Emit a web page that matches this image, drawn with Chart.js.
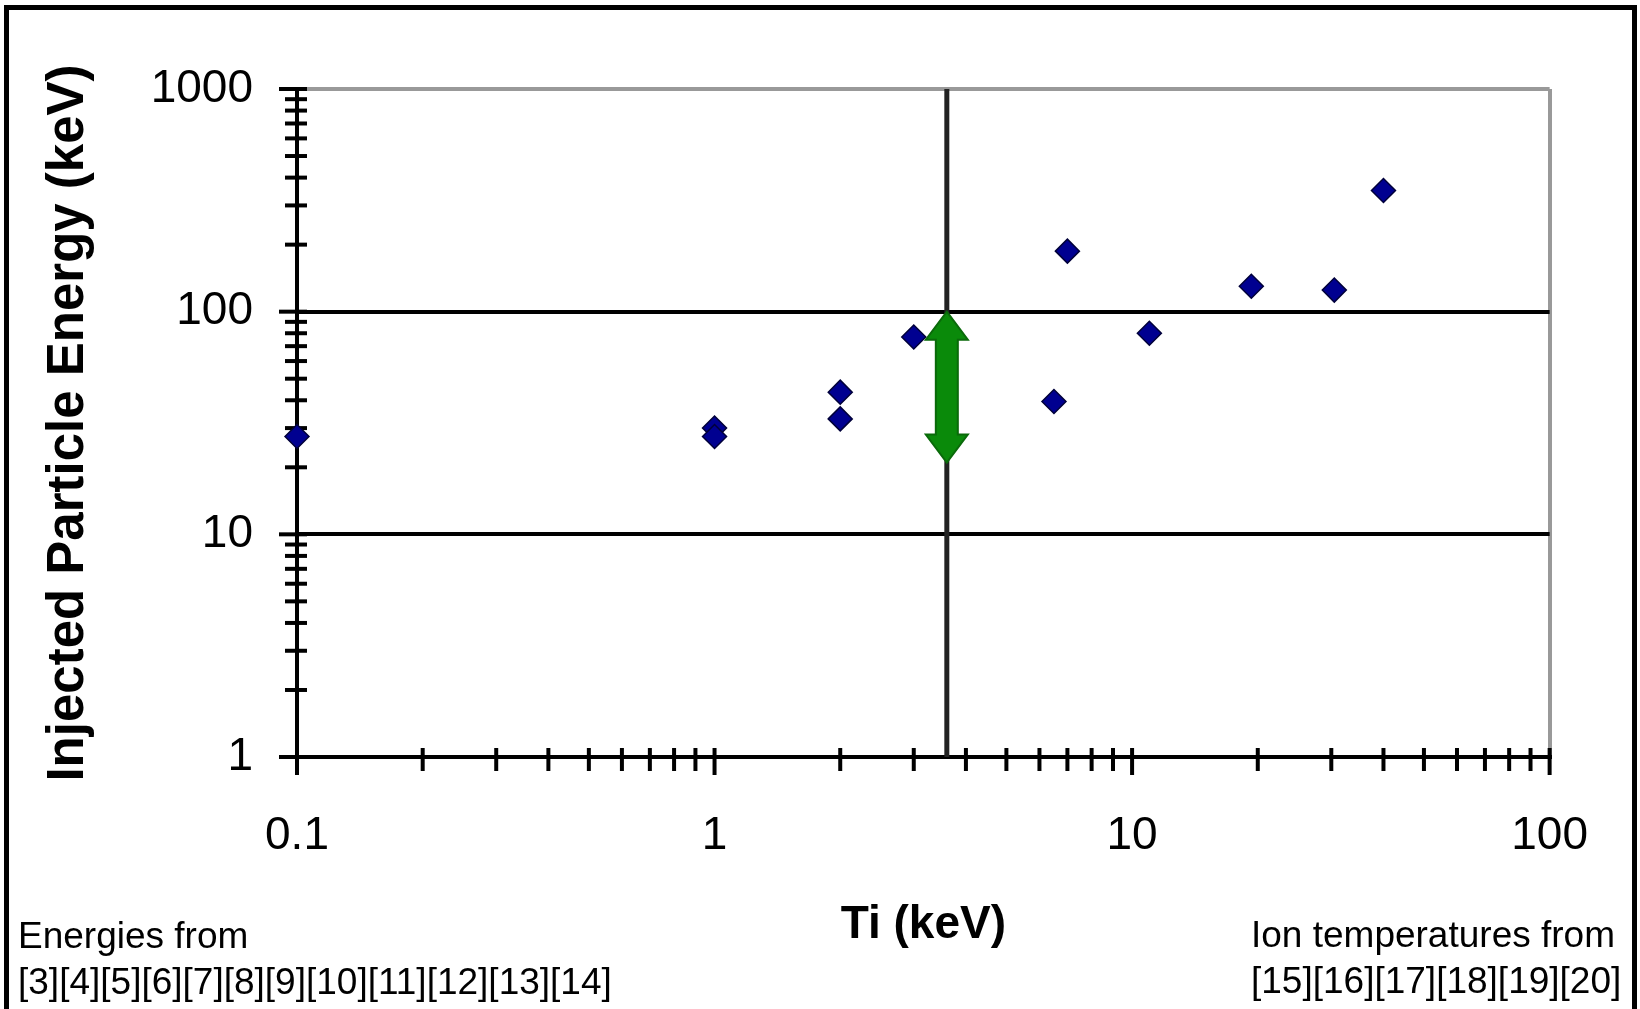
<!DOCTYPE html>
<html>
<head>
<meta charset="utf-8">
<title>Injected Particle Energy vs Ti</title>
<script src="https://cdn.jsdelivr.net/npm/chart.js@4.4.1/dist/chart.umd.min.js"></script>
<style>
    html, body { margin: 0; padding: 0; background: #fff; overflow: hidden; }
    #wrap { position: relative; width: 1640px; height: 1009px; overflow: hidden; }
    #frame { position: absolute; left: 4px; top: 5px; width: 1623px; height: 1100px; border: 5px solid #000; }
    canvas { position: absolute; left: 0; top: 0; }
    .note {
        position: absolute;
        font-family: "Liberation Sans", Arial, sans-serif;
        font-size: 37px;
        line-height: 46px;
        color: #000;
        white-space: nowrap;
    }
</style>
</head>
<body>
<div id="wrap">
    <div id="frame"></div>
    <canvas id="energyChart" width="1640" height="1009"></canvas>
    <div class="note" style="left:18px; top:913px;">Energies from<br>[3][4][5][6][7][8][9][10][11][12][13][14]</div>
    <div class="note" style="left:1251px; top:912px;">Ion temperatures from<br>[15][16][17][18][19][20]</div>
</div>

<script>
// --- Chart data ---

const tiValues = [0.1, 1, 1, 2, 2, 3, 6.5, 7, 11, 19.3, 30.5, 40];
const energyValues = [27.5, 30, 27.5, 43.5, 33, 77, 39.5, 187, 80, 130, 125, 350];

const xTickValues = [0.1, 1, 10, 100];
const xTickLabels = ["0.1", "1", "10", "100"];
const yTickValues = [1, 10, 100, 1000];
const yTickLabels = ["1", "10", "100", "1000"];

// vertical marker line and the green range arrow
const markerTi = [3.6, 3.6];
const markerEnergy = [1, 1000];
const arrowTi = 3.6;
const arrowEnergy = [21, 100];

const tickFont = { family: "'Liberation Sans Narrow', 'Arial Narrow', 'Liberation Sans', Arial, sans-serif", size: 46 };

// --- Helpers ---

// 1..9 steps inside each decade, used for the minor tick marks
function decadeTicks(decades) {
    const ticks = [];
    for (let i = 0; i < decades.length - 1; i++) {
        for (let m = 1; m <= 9; m++) {
            ticks.push(parseFloat((m * decades[i]).toPrecision(6)));
        }
    }
    ticks.push(decades[decades.length - 1]);
    return ticks.map(v => ({ value: v }));
}

function labelFor(values, labels) {
    return (value) => {
        const i = values.indexOf(value);
        return i >= 0 ? labels[i] : "";
    };
}

// Excel style tick marks that cross the axis line
const crossTicks = {
    id: "crossTicks",
    beforeDatasetsDraw(chart) {
        const { ctx, chartArea, scales } = chart;
        ctx.save();
        ctx.strokeStyle = "#000";
        ctx.lineWidth = 4;

        scales.x.ticks.forEach((t) => {
            const px = scales.x.getPixelForValue(t.value);
            const major = xTickValues.includes(t.value);
            ctx.beginPath();
            ctx.moveTo(px, chartArea.bottom - 9);
            ctx.lineTo(px, chartArea.bottom + (major ? 18 : 14));
            ctx.stroke();
        });

        scales.y.ticks.forEach((t) => {
            const py = scales.y.getPixelForValue(t.value);
            const major = yTickValues.includes(t.value);
            ctx.beginPath();
            ctx.moveTo(chartArea.left - (major ? 18 : 12), py);
            ctx.lineTo(chartArea.left + 10, py);
            ctx.stroke();
        });
        ctx.restore();
    }
};

// Green double headed arrow
const rangeArrow = {
    id: "rangeArrow",
    afterDatasetsDraw(chart) {
        const { ctx, scales } = chart;
        const x = scales.x.getPixelForValue(arrowTi);
        const yTop = scales.y.getPixelForValue(arrowEnergy[1]);
        const yBot = scales.y.getPixelForValue(arrowEnergy[0]);
        const headW = 21, headH = 28, shaftW = 11;

        ctx.save();
        ctx.fillStyle = "#0a8a0a";
        ctx.strokeStyle = "#0a6a0a";
        ctx.lineWidth = 2;
        ctx.beginPath();
        ctx.moveTo(x, yTop);
        ctx.lineTo(x + headW, yTop + headH);
        ctx.lineTo(x + shaftW, yTop + headH);
        ctx.lineTo(x + shaftW, yBot - headH);
        ctx.lineTo(x + headW, yBot - headH);
        ctx.lineTo(x, yBot);
        ctx.lineTo(x - headW, yBot - headH);
        ctx.lineTo(x - shaftW, yBot - headH);
        ctx.lineTo(x - shaftW, yTop + headH);
        ctx.lineTo(x - headW, yTop + headH);
        ctx.closePath();
        ctx.fill();
        ctx.stroke();
        ctx.restore();
    }
};

// --- Chart ---

const ctx = document.getElementById("energyChart").getContext("2d");

new Chart(ctx, {
    type: "scatter",
    data: {
        datasets: [
            {
                label: "Injected energy",
                data: tiValues.map((t, i) => ({ x: t, y: energyValues[i] })),
                pointStyle: "rectRot",
                pointRadius: 12,
                pointHoverRadius: 12,
                backgroundColor: "#000090",
                borderColor: "#00003a",
                borderWidth: 1.5,
                clip: false
            },
            {
                label: "Marker",
                data: markerTi.map((t, i) => ({ x: t, y: markerEnergy[i] })),
                showLine: true,
                borderColor: "#222",
                borderWidth: 5,
                pointRadius: 0
            }
        ]
    },
    options: {
        responsive: false,
        animation: false,
        layout: { padding: { top: 89, right: 88, bottom: 0, left: 0 } },
        plugins: {
            legend: { display: false },
            tooltip: { enabled: false }
        },
        scales: {
            x: {
                type: "logarithmic",
                min: 0.1,
                max: 100,
                afterBuildTicks: (scale) => { scale.ticks = decadeTicks(xTickValues); },
                afterFit: (scale) => { scale.height = 252; },
                grid: {
                    color: (c) => (c.tick && c.tick.value === 100 ? "#999" : "rgba(0,0,0,0)"),
                    lineWidth: 4,
                    drawTicks: false
                },
                border: { color: "#000", width: 4 },
                ticks: {
                    callback: labelFor(xTickValues, xTickLabels),
                    autoSkip: false,
                    maxRotation: 0,
                    minRotation: 0,
                    padding: 52,
                    color: "#000",
                    font: tickFont
                },
                title: {
                    display: true,
                    text: "Ti (keV)",
                    color: "#000",
                    font: { family: "'Liberation Sans', Arial, sans-serif", size: 46, weight: "bold" },
                    padding: { top: 0, bottom: 56 }
                }
            },
            y: {
                type: "logarithmic",
                min: 1,
                max: 1000,
                afterBuildTicks: (scale) => { scale.ticks = decadeTicks(yTickValues); },
                afterFit: (scale) => { scale.width = 297; },
                grid: {
                    color: (c) => {
                        if (!c.tick) return "rgba(0,0,0,0)";
                        if (c.tick.value === 1000) return "#999";
                        if (c.tick.value === 100 || c.tick.value === 10) return "#000";
                        return "rgba(0,0,0,0)";
                    },
                    lineWidth: 4,
                    drawTicks: false
                },
                border: { color: "#000", width: 4 },
                ticks: {
                    callback: labelFor(yTickValues, yTickLabels),
                    autoSkip: false,
                    padding: 44,
                    color: "#000",
                    font: tickFont
                },
                title: {
                    display: true,
                    text: "Injected Particle Energy (keV)",
                    color: "#000",
                    font: { family: "'Liberation Sans', Arial, sans-serif", size: 51, weight: "bold" },
                    padding: { top: 38, bottom: 0 }
                }
            }
        }
    },
    plugins: [crossTicks, rangeArrow]
});
</script>
</body>
</html>
